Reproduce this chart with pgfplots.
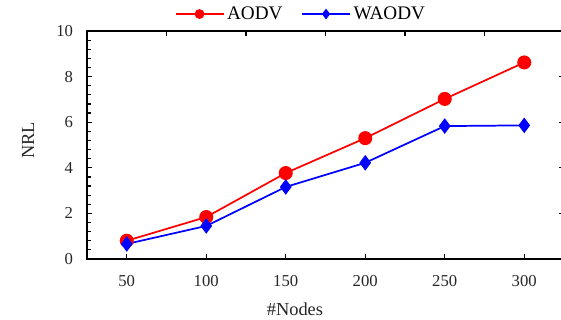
\documentclass[border=0pt]{standalone}
\usepackage{pgfplots}
\pgfplotsset{compat=1.18}
\usepackage{fontspec}
\setmainfont{Liberation Serif}
\begin{document}
\begin{tikzpicture}
\pgfplotsset{
  common/.style={
    scale only axis, width=357.75pt, height=171pt,
    at={(0,0)}, anchor=south west,
    xmin=25, xmax=325, ymin=0, ymax=10,
    tick align=inside,
    major tick length=3.5pt, minor tick length=3pt,
    axis line style={line width=1.4pt},
    tick style={black, line width=0.9pt},
    ticklabel style={font=\fontsize{12.5}{14}\selectfont, text=black!85},
    /pgf/number format/assume math mode=true,
  }
}
\begin{axis}[common,
  xtick={50,100,...,300}, ytick={0,2,...,10}, minor y tick num=4,
  xtick pos=bottom, ytick pos=left,
  xticklabel style={yshift=-9pt},
  yticklabel style={xshift=-7pt},
  xlabel={\#Nodes}, ylabel={NRL},
  label style={font=\fontsize{13.8}{15}\selectfont, text=black!85},
  xlabel style={at={(axis description cs:0.436,-0.222)}, anchor=center},
  ylabel style={at={(axis description cs:-0.1237,0.52)}, anchor=center},
  legend style={at={(axis description cs:0.449,1)}, anchor=south, yshift=3pt,
    draw=none, fill=none, font=\fontsize{14.4}{16}\selectfont,
    /tikz/every even column/.append style={column sep=12pt}},
  legend columns=2,
  legend image code/.code={\draw[mark repeat=2,mark phase=2] plot coordinates {(0pt,0pt) (18pt,0pt) (36pt,0pt)};},
]
\addplot[red, line width=1.3pt, mark=*, mark size=4.6pt, forget plot] coordinates {
 (50,0.80) (100,1.84) (150,3.77) (200,5.30) (250,7.02) (300,8.62)};
\addplot[blue, line width=1.3pt, mark=diamond*, mark size=4.8pt, forget plot] coordinates {
 (50,0.66) (100,1.45) (150,3.16) (200,4.22) (250,5.83) (300,5.86)};
\addlegendimage{red, line width=1.3pt, mark=*, mark size=3pt}
\addlegendentry{AODV}
\addlegendimage{blue, line width=1.3pt, mark=diamond*, mark size=3pt}
\addlegendentry{WAODV}
\end{axis}
\begin{axis}[common,
  xtick={75,125,...,275}, ytick={2,4,6,8},
  xtick pos=top, ytick pos=right,
  xticklabels={}, yticklabels={},
]
\end{axis}
\pgfresetboundingbox
\path[use as bounding box] (-65.25pt,-45.75pt) rectangle (355.5pt,194.25pt);
\end{tikzpicture}
\end{document}
